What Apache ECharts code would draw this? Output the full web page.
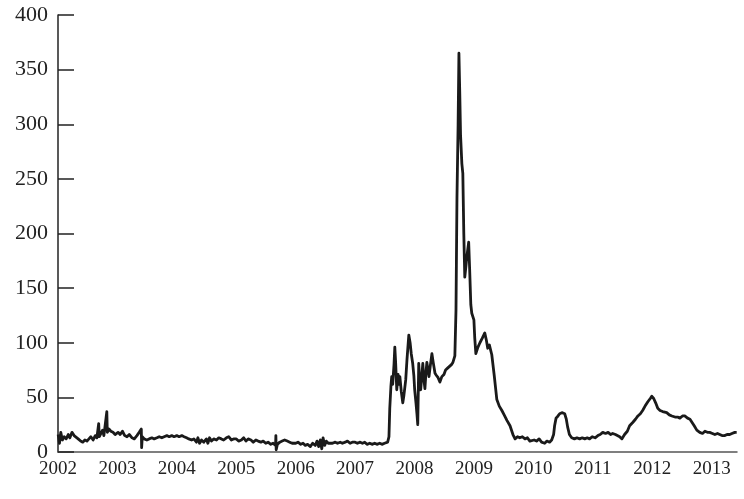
<!DOCTYPE html>
<html>
<head>
<meta charset="utf-8">
<script src="https://cdn.jsdelivr.net/npm/echarts@6/dist/echarts.min.js"></script>
<style>
  html, body { margin: 0; padding: 0; background: #fff; }
  #chart { width: 744px; height: 499px; }
</style>
</head>
<body>
<div id="chart"></div>
<script>
// spread values, [date, value]
var calm2002_2004 = [
  ['2002-01-02',16],['2002-01-10',8],['2002-01-18',18],['2002-01-28',11],['2002-02-08',14],['2002-02-20',12],
  ['2002-03-05',16],['2002-03-15',13],['2002-03-28',18],['2002-04-10',15],['2002-04-22',14],['2002-05-05',12],
  ['2002-05-20',10],['2002-06-02',9],['2002-06-15',11],['2002-06-28',10],['2002-07-10',12],['2002-07-22',14],
  ['2002-08-05',11],['2002-08-18',15],['2002-08-28',13],['2002-09-08',26],['2002-09-12',14],['2002-09-22',17],
  ['2002-10-02',20],['2002-10-10',15],['2002-10-28',37],['2002-10-31',18],['2002-11-10',21],['2002-11-22',19],
  ['2002-12-05',18],['2002-12-18',16],
  ['2003-01-05',18],['2003-01-18',16],['2003-02-01',19],['2003-02-15',15],['2003-03-01',14],['2003-03-15',16],
  ['2003-04-01',13],['2003-04-15',12],['2003-05-01',15],['2003-05-15',18],['2003-05-28',21],['2003-05-30',4],
  ['2003-06-03',14],['2003-06-15',12],['2003-07-01',11],['2003-07-15',12],['2003-08-01',13],['2003-08-15',12],
  ['2003-09-01',13],['2003-09-15',14],['2003-10-01',13],['2003-10-15',14],['2003-11-01',15],['2003-11-15',14],
  ['2003-12-01',15],['2003-12-15',14],
  ['2004-01-01',15],['2004-01-15',14],['2004-02-01',15],['2004-02-15',14],['2004-03-01',13],['2004-03-15',12],
  ['2004-04-01',11],['2004-04-15',12],['2004-05-01',9],['2004-05-10',13],['2004-05-20',8],['2004-06-01',11],
  ['2004-06-15',9],['2004-07-01',12],['2004-07-10',8],['2004-07-20',13],['2004-08-01',10],['2004-08-15',12],
  ['2004-09-01',11],['2004-09-15',13],['2004-10-01',12],['2004-10-15',11],['2004-11-01',13],['2004-11-15',14],
  ['2004-12-01',11],['2004-12-15',12]
];

var calm2005_2007 = [
  ['2005-01-01',12],['2005-01-15',10],['2005-02-01',11],['2005-02-15',13],['2005-03-01',10],['2005-03-15',12],
  ['2005-04-01',11],['2005-04-15',9],['2005-05-01',11],['2005-05-15',10],['2005-06-01',9],['2005-06-15',10],
  ['2005-07-01',8],['2005-07-15',9],['2005-08-01',7],['2005-08-15',8],['2005-08-30',6],['2005-09-01',15],
  ['2005-09-03',2],['2005-09-10',7],['2005-09-25',9],['2005-10-10',10],['2005-10-25',11],['2005-11-10',10],
  ['2005-11-25',9],['2005-12-10',8],
  ['2006-01-01',8],['2006-01-15',9],['2006-02-01',7],['2006-02-15',8],['2006-03-01',6],['2006-03-15',7],
  ['2006-04-01',5],['2006-04-15',8],['2006-05-01',6],['2006-05-12',10],['2006-05-22',5],['2006-06-01',11],
  ['2006-06-10',3],['2006-06-18',13],['2006-06-28',6],['2006-07-08',10],['2006-07-20',8],['2006-08-01',9],
  ['2006-08-15',8],['2006-09-01',9],['2006-09-15',8],['2006-10-01',9],['2006-10-15',8],['2006-11-01',9],
  ['2006-11-15',10],['2006-12-01',8],['2006-12-15',9],
  ['2007-01-01',9],['2007-01-15',8],['2007-02-01',9],['2007-02-15',8],['2007-03-01',9],['2007-03-15',7],
  ['2007-04-01',8],['2007-04-15',7],['2007-05-01',8],['2007-05-15',7],['2007-06-01',8],['2007-06-15',7],
  ['2007-07-01',8],['2007-07-20',9]
];

var crisis2007_2009 = [
  ['2007-07-28',14],['2007-08-02',40],['2007-08-09',60],['2007-08-14',69],['2007-08-20',62],['2007-08-28',80],
  ['2007-09-02',96],['2007-09-07',82],['2007-09-14',57],['2007-09-22',71],['2007-09-28',62],['2007-10-03',69],
  ['2007-10-12',55],['2007-10-21',45],['2007-10-28',52],['2007-11-08',66],['2007-11-16',85],['2007-11-27',107],
  ['2007-12-05',100],['2007-12-12',90],['2007-12-21',81],['2007-12-28',70],['2008-01-02',57],['2008-01-10',45],
  ['2008-01-16',35],['2008-01-21',25],['2008-01-27',81],['2008-02-02',65],['2008-02-08',57],['2008-02-15',70],
  ['2008-02-21',81],['2008-02-28',66],['2008-03-05',58],['2008-03-11',72],['2008-03-17',82],['2008-03-24',75],
  ['2008-03-30',69],['2008-04-08',80],['2008-04-17',90],['2008-04-25',82],['2008-05-06',72],['2008-05-15',70],
  ['2008-05-25',68],['2008-06-05',64],['2008-06-17',69],['2008-06-30',71],['2008-07-10',75],['2008-07-24',77],
  ['2008-08-05',77],['2008-08-15',80],['2008-08-24',82],['2008-09-05',88],['2008-09-12',130],['2008-09-18',233],
  ['2008-09-25',300],['2008-09-30',365],['2008-10-05',330],['2008-10-10',290],['2008-10-18',264],['2008-10-24',255],
  ['2008-10-30',200],['2008-11-05',160],['2008-11-12',170],['2008-11-17',178],['2008-11-29',192],['2008-12-05',167],
  ['2008-12-12',135],['2008-12-18',127],['2008-12-31',121],['2009-01-05',105],['2009-01-12',90],['2009-01-25',96],
  ['2009-02-06',100],['2009-02-20',104],['2009-03-08',109],['2009-03-18',102],['2009-03-26',95],['2009-04-05',98],
  ['2009-04-20',89],['2009-05-05',70],['2009-05-21',48],['2009-06-05',42],['2009-06-21',38],['2009-07-05',34],
  ['2009-07-22',29],['2009-08-10',24],['2009-08-28',16],['2009-09-10',12],['2009-09-25',14],['2009-10-09',13],
  ['2009-10-25',14],['2009-11-10',12],['2009-11-25',13],['2009-12-10',10],['2009-12-21',9]
];

var after2010_2013 = [
  ['2010-01-05',11],['2010-01-20',10],['2010-02-05',12],['2010-02-20',9],['2010-03-11',8],['2010-03-25',10],
  ['2010-04-10',9],['2010-04-23',11],['2010-05-05',16],['2010-05-11',24],['2010-05-20',31],['2010-06-01',33],
  ['2010-06-11',35],['2010-06-25',36],['2010-07-12',35],['2010-07-22',30],['2010-07-30',23],['2010-08-10',16],
  ['2010-08-24',13],['2010-09-10',12],['2010-09-25',13],['2010-10-12',12],['2010-10-28',13],['2010-11-12',12],
  ['2010-11-28',13],['2010-12-12',12],['2010-12-28',14],
  ['2011-01-15',13],['2011-02-01',15],['2011-02-15',16],['2011-03-03',18],['2011-03-20',17],['2011-04-05',18],
  ['2011-04-20',16],['2011-05-03',17],['2011-05-20',16],['2011-06-01',15],['2011-06-15',14],['2011-06-28',12],
  ['2011-07-15',16],['2011-08-01',19],['2011-08-15',24],['2011-09-03',27],['2011-09-20',30],['2011-10-05',33],
  ['2011-10-20',35],['2011-11-03',38],['2011-11-18',42],['2011-12-05',46],['2011-12-20',49],['2011-12-29',51],
  ['2012-01-10',49],['2012-01-22',45],['2012-02-04',40],['2012-02-18',38],['2012-03-05',37],['2012-03-30',36],
  ['2012-04-15',34],['2012-05-01',33],['2012-05-20',32],['2012-06-05',32],['2012-06-19',31],['2012-07-05',33],
  ['2012-07-19',33],['2012-08-05',31],['2012-08-20',30],['2012-08-31',29],['2012-09-15',24],['2012-10-01',20],
  ['2012-10-19',18],['2012-11-05',17],['2012-11-20',19],['2012-12-05',18],['2012-12-19',18],
  ['2013-01-05',17],['2013-01-20',16],['2013-02-05',17],['2013-02-19',16],['2013-03-05',15],['2013-03-20',15],
  ['2013-04-05',16],['2013-04-21',16],['2013-05-05',17],['2013-05-22',18],['2013-06-03',18]
];

var yTicks = [0, 50, 100, 150, 200, 250, 300, 350, 400];
var xStart = '2002-01-01', xEnd = '2013-06-05';

var seriesData = calm2002_2004.concat(calm2005_2007, crisis2007_2009, after2010_2013);

var serif = '"Liberation Serif", "DejaVu Serif", serif';

var chart = echarts.init(document.getElementById('chart'), null, { renderer: 'canvas' });
var option = {
  backgroundColor: '#fff',
  animation: false,
  grid: {
    left: 58,
    right: 7,
    top: 15,
    bottom: 47,
    containLabel: false
  },
  xAxis: {
    type: 'time',
    min: xStart,
    max: xEnd,
    minInterval: 365 * 24 * 3600 * 1000,
    maxInterval: 366 * 24 * 3600 * 1000,
    axisLine: { show: true, lineStyle: { color: '#555', width: 1.5 } },
    axisTick: { show: false },
    splitLine: { show: false },
    axisLabel: {
      fontFamily: serif,
      fontSize: 19,
      color: '#222',
      margin: 8,
      showMinLabel: true,
      hideOverlap: false,
      formatter: function (v) {
        return String(new Date(v).getFullYear());
      }
    }
  },
  yAxis: {
    type: 'value',
    min: yTicks[0],
    max: yTicks[yTicks.length - 1],
    interval: 50,
    axisLine: { show: true, lineStyle: { color: '#222', width: 1.5 } },
    axisTick: { show: true, inside: true, length: 16, lineStyle: { color: '#222', width: 1.5 } },
    splitLine: { show: false },
    axisLabel: {
      fontFamily: serif,
      fontSize: 22,
      color: '#222',
      margin: 10
    }
  },
  series: [
    {
      type: 'line',
      data: seriesData,
      showSymbol: false,
      symbol: 'none',
      lineStyle: { color: '#1a1a1a', width: 2.8, join: 'round' },
      silent: true
    }
  ]
};
chart.setOption(option);
</script>
</body>
</html>
